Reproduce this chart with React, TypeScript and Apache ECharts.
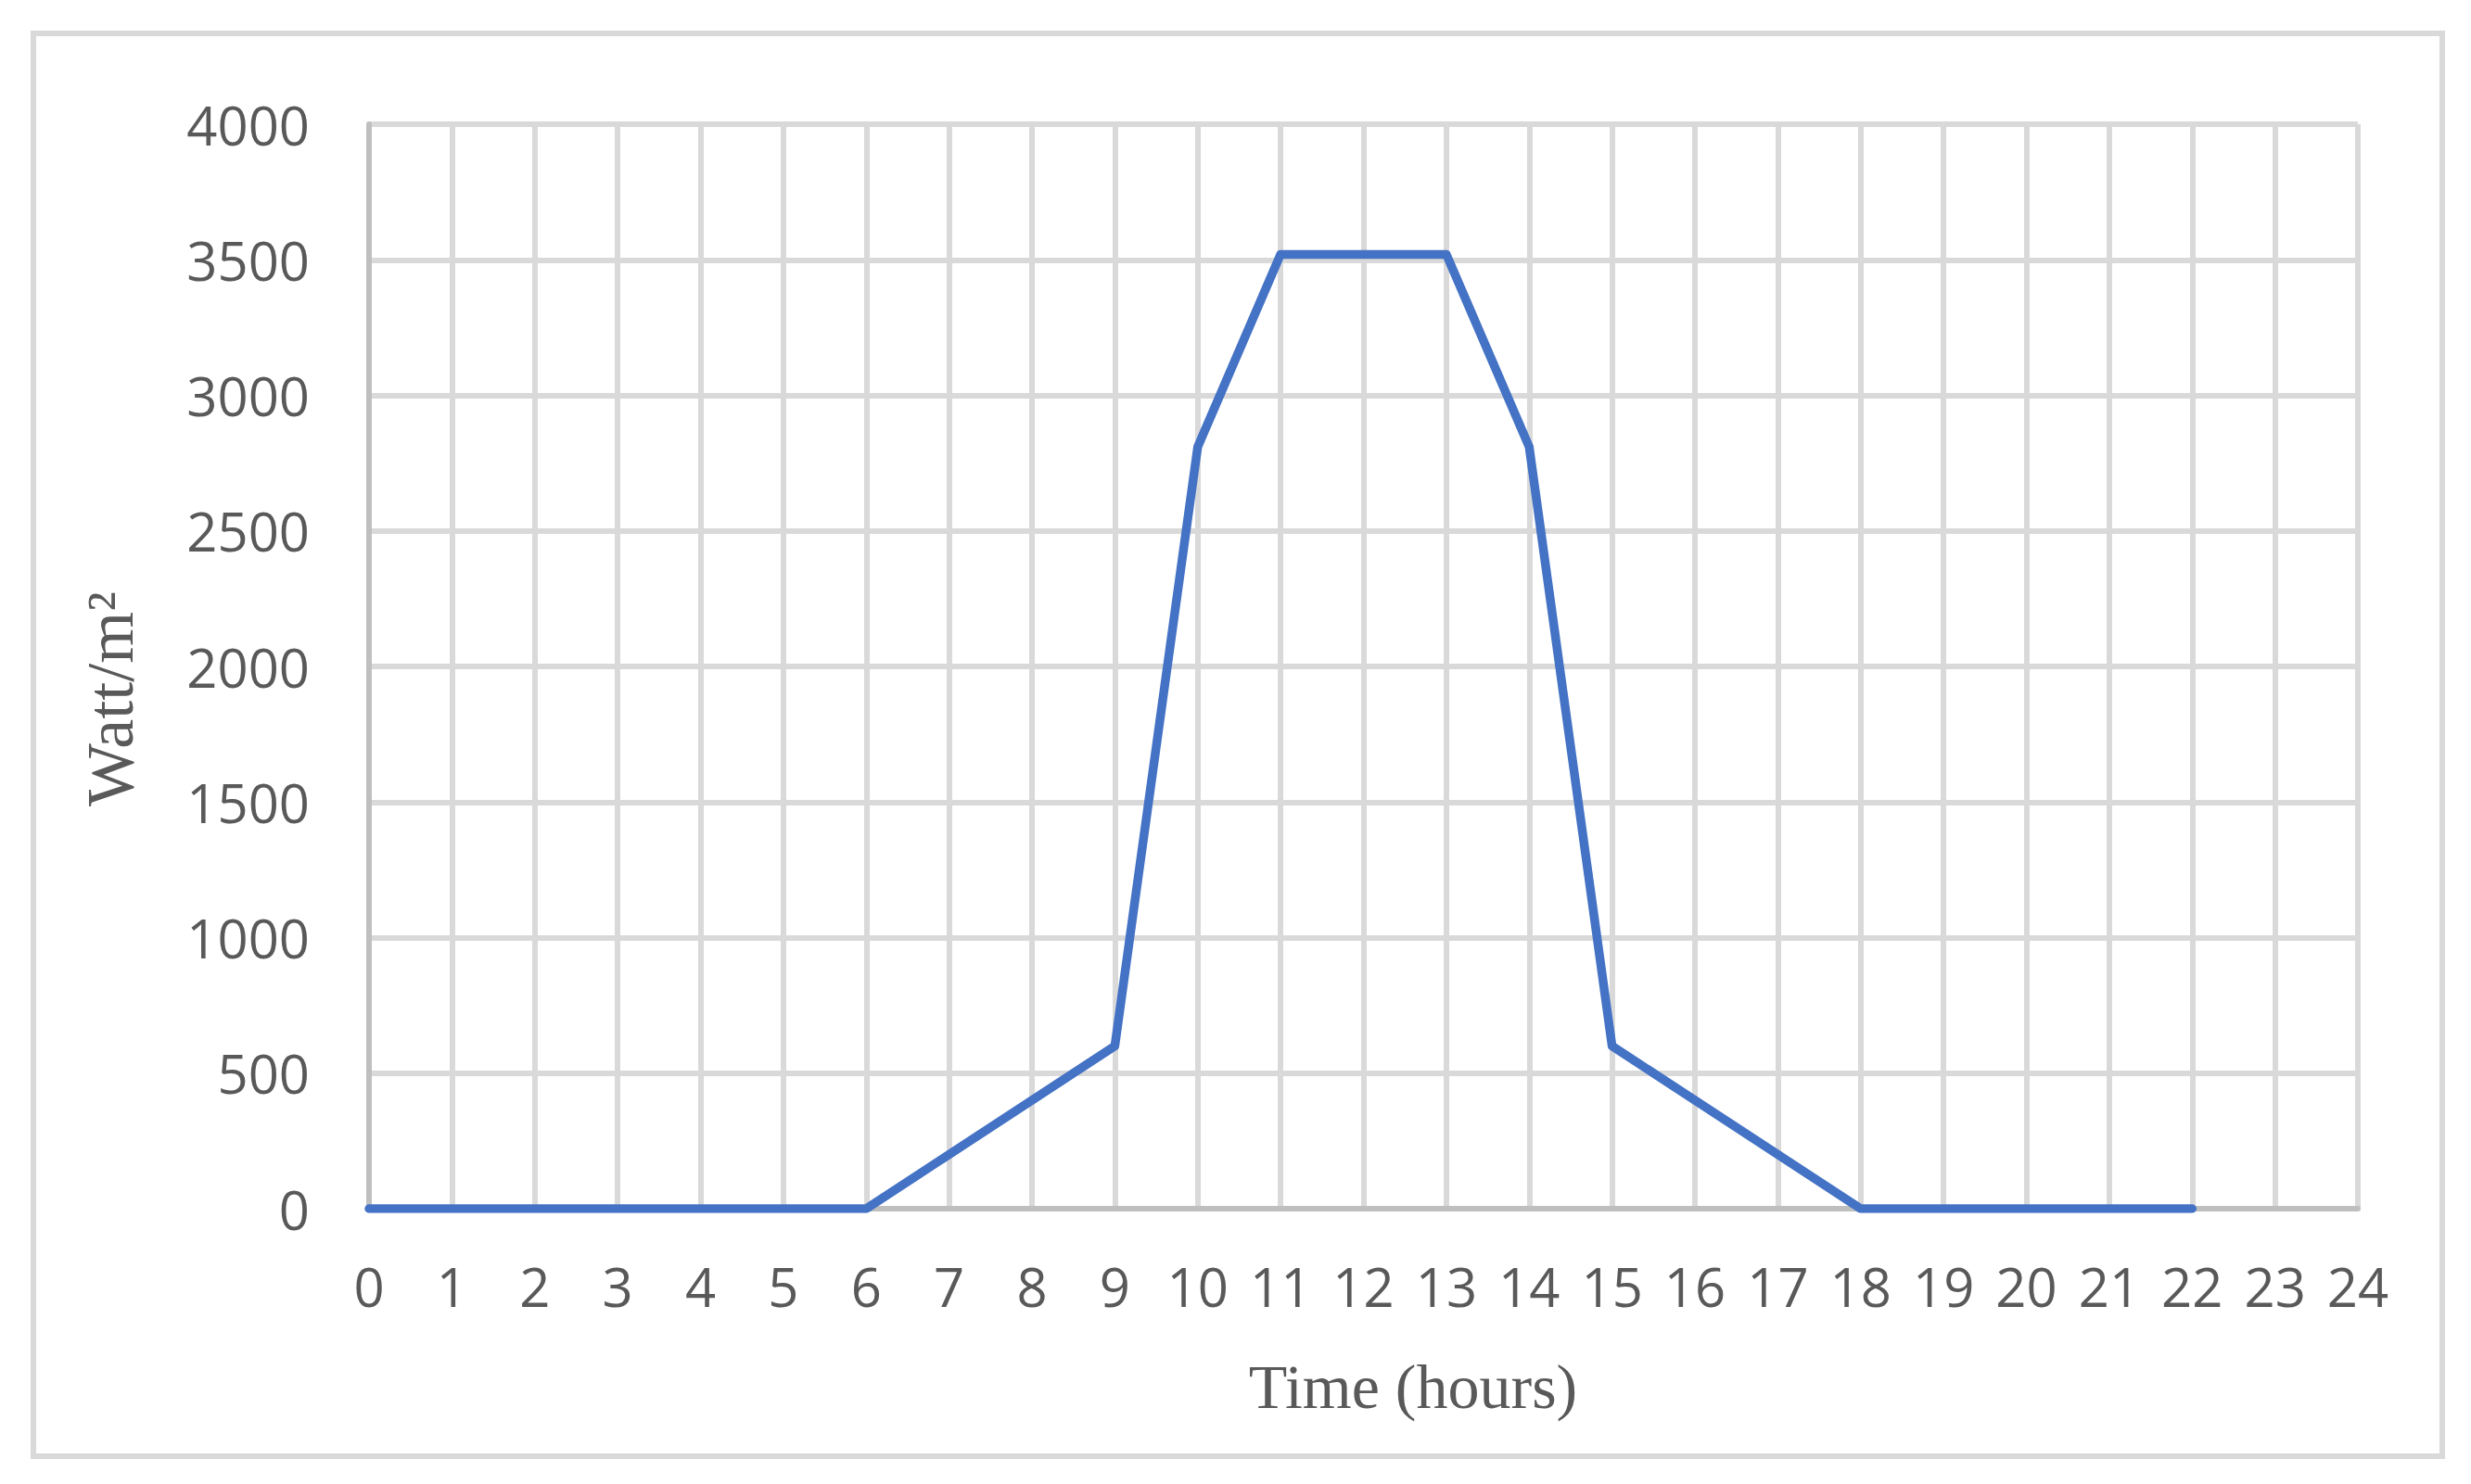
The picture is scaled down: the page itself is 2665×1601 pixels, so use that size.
import React, { useEffect, useRef } from "react";
import * as echarts from "echarts";

const hours = [0, 1, 2, 3, 4, 5, 6, 7, 8, 9, 10, 11, 12, 13, 14, 15, 16, 17, 18, 19, 20, 21, 22];
const irradiance = [0, 0, 0, 0, 0, 0, 0, 200, 400, 600, 2810, 3520, 3520, 3520, 2810, 600, 400, 200, 0, 0, 0, 0, 0];
const xTitle = "Time (hours)";
const yTitle = "Watt/m²";

export default function App() {
  const ref = useRef<HTMLDivElement>(null);
  useEffect(() => {
    document.body.style.margin = "0";
    document.body.style.overflow = "hidden";
    const chart = echarts.init(ref.current!, null, { renderer: "svg" });
    const labelFont = "'Open Sans', 'Noto Sans', sans-serif";
    const titleFont = "'Liberation Serif', 'Times New Roman', serif";
    chart.setOption({
      animation: false,
      backgroundColor: "#ffffff",
      grid: { left: 398, right: 122, top: 134, bottom: 297, containLabel: false },
      xAxis: {
        type: "value",
        min: 0,
        max: 24,
        interval: 1,
        axisLine: { show: true, onZero: false, lineStyle: { color: "#bfbfbf", width: 6 } },
        axisTick: { show: false },
        axisLabel: { color: "#595959", fontSize: 58, fontFamily: labelFont, margin: 54 },
        splitLine: { show: true, lineStyle: { color: "#d9d9d9", width: 6 } },
      },
      yAxis: {
        type: "value",
        min: 0,
        max: 4000,
        interval: 500,
        axisLine: { show: true, lineStyle: { color: "#bfbfbf", width: 6 } },
        axisTick: { show: false },
        axisLabel: {
          color: "#595959",
          fontSize: 58,
          fontFamily: labelFont,
          margin: 64,
          formatter: (v: number) => String(v),
        },
        splitLine: { show: true, lineStyle: { color: "#d9d9d9", width: 6 } },
      },
      series: [
        {
          type: "line",
          data: hours.map((h, i) => [h, irradiance[i]]),
          showSymbol: false,
          symbol: "none",
          lineStyle: { color: "#4472c4", width: 9.5, cap: "round", join: "round" },
          z: 5,
        },
      ],
      graphic: [
        {
          type: "rect",
          shape: { x: 36, y: 36, width: 2598, height: 1535 },
          style: { fill: "none", stroke: "#d9d9d9", lineWidth: 6 },
          silent: true,
          z: -1,
        },
        {
          type: "text",
          x: 1524,
          y: 1496,
          style: {
            text: xTitle,
            fill: "#595959",
            font: `68px ${titleFont}`,
            align: "center",
            verticalAlign: "middle",
          },
        },
        {
          type: "text",
          x: 119,
          y: 754,
          rotation: Math.PI / 2,
          style: {
            text: yTitle,
            fill: "#595959",
            font: `72px ${titleFont}`,
            align: "center",
            verticalAlign: "middle",
          },
        },
      ],
    });
    return () => chart.dispose();
  }, []);
  return <div ref={ref} style={{ width: 2665, height: 1601 }} />;
}
